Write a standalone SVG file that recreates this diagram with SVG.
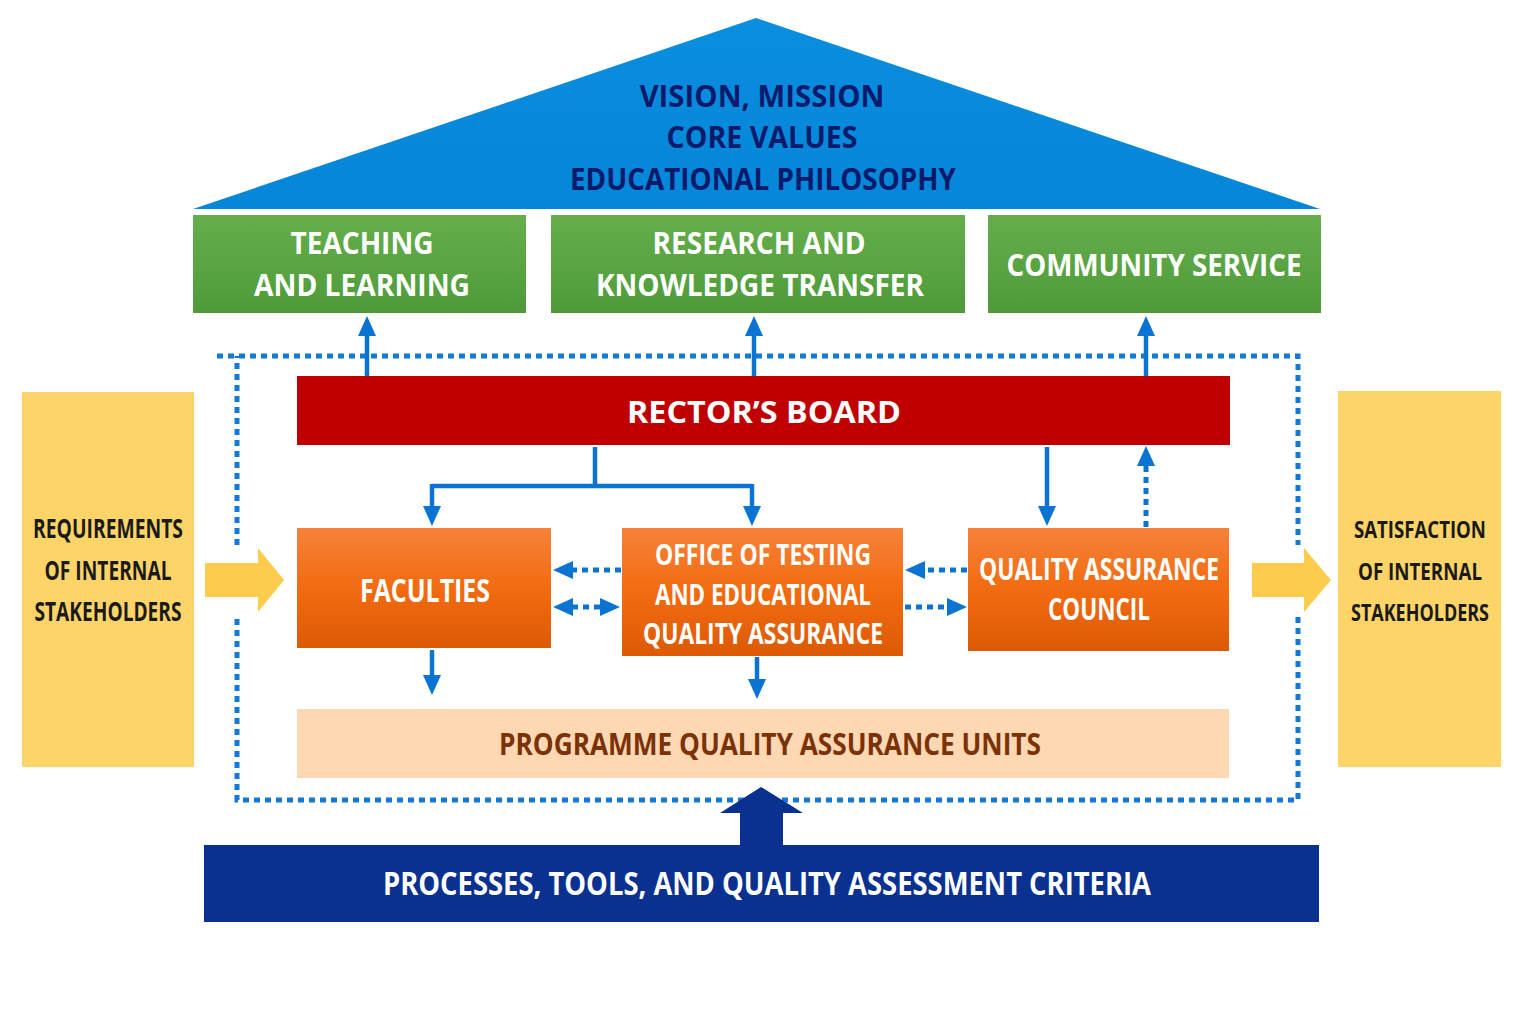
<svg xmlns="http://www.w3.org/2000/svg" width="1535" height="1024" viewBox="0 0 1535 1024">
<defs>
<linearGradient id="gGreen" x1="0" y1="0" x2="0" y2="1"><stop offset="0" stop-color="#66ae4c"/><stop offset="1" stop-color="#4e9a3a"/></linearGradient>
<linearGradient id="gOrange" x1="0" y1="0" x2="0" y2="1"><stop offset="0" stop-color="#f6823a"/><stop offset="0.5" stop-color="#f26b10"/><stop offset="1" stop-color="#dc5a06"/></linearGradient>
<linearGradient id="gRoof" x1="0" y1="0" x2="0" y2="1"><stop offset="0" stop-color="#0a8ee0"/><stop offset="1" stop-color="#0586d8"/></linearGradient>
<marker id="ah" viewBox="0 0 20 20" markerWidth="20" markerHeight="20" refX="12" refY="10" orient="auto-start-reverse" markerUnits="userSpaceOnUse">
<path d="M0 1 L20 10 L0 19 Z" fill="#0b74d2"/>
</marker>
</defs>
<style>
text{font-family:"Open Sans","Liberation Sans",sans-serif;font-weight:700;text-anchor:middle}
.w{fill:#ffffff}
.nv{fill:#0c1a6b}
.bk{fill:#1a1a1a}
.br{fill:#7a3206}
.sl{fill:none;stroke:#0b74d2;stroke-width:4.5}
.dl{fill:none;stroke:#0b74d2;stroke-width:5;stroke-dasharray:6 5}
.bd{fill:none;stroke:#1479d4;stroke-width:5;stroke-dasharray:6 5}
</style>
<rect width="1535" height="1024" fill="#ffffff"/>

<g id="roof">
<polygon points="756,18 1320,209 193,209" fill="url(#gRoof)"/>
<text class="nv" x="762" y="107" font-size="31" textLength="245" lengthAdjust="spacingAndGlyphs">VISION, MISSION</text>
<text class="nv" x="762" y="148" font-size="31" textLength="191" lengthAdjust="spacingAndGlyphs">CORE VALUES</text>
<text class="nv" x="763" y="190" font-size="31" textLength="386" lengthAdjust="spacingAndGlyphs">EDUCATIONAL PHILOSOPHY</text>
</g>

<g id="teaching">
<rect x="193" y="215" width="333" height="98" fill="url(#gGreen)"/>
<text class="w" x="362" y="254" font-size="31" textLength="143" lengthAdjust="spacingAndGlyphs">TEACHING</text>
<text class="w" x="362" y="296" font-size="31" textLength="216" lengthAdjust="spacingAndGlyphs">AND LEARNING</text>
</g>
<g id="research">
<rect x="551" y="215" width="414" height="98" fill="url(#gGreen)"/>
<text class="w" x="759" y="254" font-size="31" textLength="213" lengthAdjust="spacingAndGlyphs">RESEARCH AND</text>
<text class="w" x="760" y="296" font-size="31" textLength="328" lengthAdjust="spacingAndGlyphs">KNOWLEDGE TRANSFER</text>
</g>
<g id="community">
<rect x="988" y="215" width="333" height="98" fill="url(#gGreen)"/>
<text class="w" x="1154" y="276" font-size="31" textLength="295" lengthAdjust="spacingAndGlyphs">COMMUNITY SERVICE</text>
</g>

<g id="boundary">
<path class="bd" d="M217 356 H1298 V545"/>
<path class="bd" d="M1298 617 V800 H237 V617"/>
<path class="bd" d="M237 545 V356"/>
</g>

<g id="rectors-board">
<rect x="297" y="376" width="933" height="69" fill="#c00000"/>
<text class="w" x="764" y="423" font-size="31" textLength="274" lengthAdjust="spacingAndGlyphs">RECTOR’S BOARD</text>
</g>

<g id="faculties">
<rect x="297" y="528" width="254" height="120" fill="url(#gOrange)"/>
<text class="w" x="425" y="602" font-size="32" textLength="130" lengthAdjust="spacingAndGlyphs">FACULTIES</text>
</g>
<g id="office">
<rect x="622" y="528" width="281" height="128" fill="url(#gOrange)"/>
<text class="w" x="763" y="565" font-size="29" textLength="216" lengthAdjust="spacingAndGlyphs">OFFICE OF TESTING</text>
<text class="w" x="763" y="605" font-size="29" textLength="216" lengthAdjust="spacingAndGlyphs">AND EDUCATIONAL</text>
<text class="w" x="763" y="644" font-size="29" textLength="240" lengthAdjust="spacingAndGlyphs">QUALITY ASSURANCE</text>
</g>
<g id="qa-council">
<rect x="968" y="528" width="261" height="123" fill="url(#gOrange)"/>
<text class="w" x="1099" y="580" font-size="30" textLength="240" lengthAdjust="spacingAndGlyphs">QUALITY ASSURANCE</text>
<text class="w" x="1099" y="620" font-size="30" textLength="102" lengthAdjust="spacingAndGlyphs">COUNCIL</text>
</g>

<g id="programme-units">
<rect x="297" y="709" width="932" height="69" fill="#fdd8b3"/>
<text class="br" x="770" y="755" font-size="31" textLength="542" lengthAdjust="spacingAndGlyphs">PROGRAMME QUALITY ASSURANCE UNITS</text>
</g>

<g id="requirements">
<rect x="22" y="392" width="172" height="375" fill="#fdd468"/>
<text class="bk" x="108" y="538" font-size="26" textLength="150" lengthAdjust="spacingAndGlyphs">REQUIREMENTS</text>
<text class="bk" x="108" y="580" font-size="26" textLength="127" lengthAdjust="spacingAndGlyphs">OF INTERNAL</text>
<text class="bk" x="108" y="621" font-size="26" textLength="147" lengthAdjust="spacingAndGlyphs">STAKEHOLDERS</text>
</g>
<g id="satisfaction">
<rect x="1338" y="391" width="163" height="376" fill="#fdd468"/>
<text class="bk" x="1420" y="538" font-size="24" textLength="132" lengthAdjust="spacingAndGlyphs">SATISFACTION</text>
<text class="bk" x="1420" y="580" font-size="24" textLength="124" lengthAdjust="spacingAndGlyphs">OF INTERNAL</text>
<text class="bk" x="1420" y="621" font-size="24" textLength="138" lengthAdjust="spacingAndGlyphs">STAKEHOLDERS</text>
</g>

<g id="processes">
<rect x="204" y="845" width="1115" height="77" fill="#0a3190"/>
<text class="w" x="767" y="895" font-size="32" textLength="768" lengthAdjust="spacingAndGlyphs">PROCESSES, TOOLS, AND QUALITY ASSESSMENT CRITERIA</text>
</g>

<g id="connectors">
<line class="sl" x1="367" y1="376" x2="367" y2="324" marker-end="url(#ah)"/>
<line class="sl" x1="754" y1="376" x2="754" y2="324" marker-end="url(#ah)"/>
<line class="sl" x1="1146" y1="376" x2="1146" y2="324" marker-end="url(#ah)"/>
<path class="sl" d="M595 447 V486"/>
<path class="sl" d="M432 486 H752"/>
<line class="sl" x1="432" y1="484" x2="432" y2="518" marker-end="url(#ah)"/>
<line class="sl" x1="752" y1="484" x2="752" y2="518" marker-end="url(#ah)"/>
<line class="sl" x1="1047" y1="447" x2="1047" y2="518" marker-end="url(#ah)"/>
<line class="dl" x1="1146" y1="527" x2="1146" y2="454" marker-end="url(#ah)"/>
<line class="dl" x1="621" y1="570" x2="561" y2="570" marker-end="url(#ah)"/>
<line class="dl" x1="561" y1="607" x2="612" y2="607" marker-start="url(#ah)" marker-end="url(#ah)"/>
<line class="dl" x1="967" y1="570" x2="913" y2="570" marker-end="url(#ah)"/>
<line class="dl" x1="905" y1="607" x2="959" y2="607" marker-end="url(#ah)"/>
<line class="sl" x1="432" y1="650" x2="432" y2="687" marker-end="url(#ah)"/>
<line class="sl" x1="757" y1="657" x2="757" y2="691" marker-end="url(#ah)"/>
<polygon points="205,563 258,563 258,548 284,580 258,612 258,597 205,597" fill="#fdcc4c"/>
<polygon points="1252,563 1304,563 1304,548 1331,580 1304,612 1304,597 1252,597" fill="#fdcc4c"/>
<polygon points="740,845 740,813 720,813 761,787 803,813 783,813 783,845" fill="#0a3190"/>
</g>
</svg>
